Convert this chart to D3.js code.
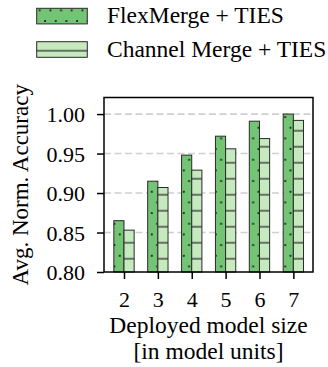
<!DOCTYPE html>
<html>
<head>
<meta charset="utf-8">
<script src="https://cdn.jsdelivr.net/npm/d3@7"></script>
<style>
  html, body { margin: 0; padding: 0; background: #fff; }
  svg { display: block; }
  text { font-family: "Liberation Serif", "Times New Roman", Times, serif; fill: #000; }
</style>
</head>
<body>
<svg id="chart" width="328" height="367"></svg>
<script>
const categories = [2, 3, 4, 5, 6, 7];
const flexMerge = [0.865, 0.915, 0.948, 0.972, 0.991, 1.000];
const channelMerge = [0.853, 0.907, 0.929, 0.956, 0.969, 0.992];
const yTicks = [0.80, 0.85, 0.90, 0.95, 1.00];
const seriesNames = ["FlexMerge + TIES", "Channel Merge + TIES"];
const yLabel = "Avg. Norm. Accuracy";
const xLabelLines = ["Deployed model size", "[in model units]"];

const svg = d3.select("#chart");
const m = { left: 104, right: 313, top: 97.5, bottom: 272 };

const x = d3.scaleLinear().domain([1.41, 7.58]).range([m.left, m.right]);
const y = d3.scaleLinear().domain([0.8, 1.021]).range([m.bottom, m.top]);
const barW = 0.3;

const flexColor = "#74c476";
const chanColor = "#c7e9c0";

// patterns
const defs = svg.append("defs");
const dp = 10.67;
const dots = defs.append("pattern").attr("id", "dots")
  .attr("patternUnits", "userSpaceOnUse")
  .attr("x", 2.4).attr("y", -0.3)
  .attr("width", dp).attr("height", dp * 2);
dots.append("rect").attr("width", dp).attr("height", dp * 2).attr("fill", flexColor);
[[0,0],[dp,0],[0,2*dp],[dp,2*dp],[dp/2,dp]].forEach(([cx, cy]) => {
  dots.append("circle").attr("cx", cx).attr("cy", cy).attr("r", 1.05).attr("fill", "#111");
});
const lines = defs.append("pattern").attr("id", "hlines")
  .attr("patternUnits", "userSpaceOnUse")
  .attr("x", 0).attr("y", 2.7)
  .attr("width", 16).attr("height", 16);
lines.append("rect").attr("width", 16).attr("height", 16).attr("fill", chanColor);
lines.append("rect").attr("x", 0).attr("y", -0.5).attr("width", 16).attr("height", 1.1).attr("fill", "#111");
lines.append("rect").attr("x", 0).attr("y", 15.5).attr("width", 16).attr("height", 1.1).attr("fill", "#111");

// grid
svg.append("g").selectAll("line").data(yTicks.filter(t => t > 0.8)).join("line")
  .attr("x1", m.left).attr("x2", m.right)
  .attr("y1", d => y(d)).attr("y2", d => y(d))
  .attr("stroke", "#d0d0d0").attr("stroke-width", 1.6)
  .attr("stroke-dasharray", "7,3.5");

// bars
const data = categories.map((c, i) => ({ c, f: flexMerge[i], ch: channelMerge[i] }));
const gBars = svg.append("g");
gBars.selectAll("rect.flex").data(data).join("rect").attr("class", "flex")
  .attr("x", d => x(d.c - barW)).attr("width", d => x(d.c) - x(d.c - barW))
  .attr("y", d => y(d.f)).attr("height", d => y(0.8) - y(d.f))
  .attr("fill", "url(#dots)").attr("stroke", "#2a2a2a").attr("stroke-width", 1);
gBars.selectAll("rect.chan").data(data).join("rect").attr("class", "chan")
  .attr("x", d => x(d.c)).attr("width", d => x(d.c + barW) - x(d.c))
  .attr("y", d => y(d.ch)).attr("height", d => y(0.8) - y(d.ch))
  .attr("fill", "url(#hlines)").attr("stroke", "#2a2a2a").attr("stroke-width", 1);

// frame
svg.append("rect").attr("x", m.left).attr("y", m.top)
  .attr("width", m.right - m.left).attr("height", m.bottom - m.top)
  .attr("fill", "none").attr("stroke", "#000").attr("stroke-width", 1.5);

// axes
const fs = 22;
const yAxis = svg.append("g").attr("transform", `translate(${m.left},0)`)
  .call(d3.axisLeft(y).tickValues(yTicks).tickFormat(d3.format(".2f")).tickSize(7).tickPadding(12));
const xAxis = svg.append("g").attr("transform", `translate(0,${m.bottom})`)
  .call(d3.axisBottom(x).tickValues(categories).tickFormat(d3.format("d")).tickSize(7).tickPadding(6));
[yAxis, xAxis].forEach(a => {
  a.attr("font-family", null);
  a.select(".domain").remove();
  a.selectAll(".tick line").attr("stroke", "#000").attr("stroke-width", 1.5);
  a.selectAll(".tick text").style("font-size", fs + "px").attr("fill", "#000");
});
xAxis.selectAll(".tick text").attr("dy", null).attr("y", 35);
yAxis.selectAll(".tick text").attr("dy", "0.34em");

// y label
svg.append("text")
  .attr("transform", `translate(28,${(m.top + m.bottom) / 2}) rotate(-90)`)
  .attr("text-anchor", "middle").style("font-size", "23px").text(yLabel);

// x label (two lines in one text element)
const xl = svg.append("text").attr("text-anchor", "middle").style("font-size", "23.5px");
xLabelLines.forEach((t, i) => {
  xl.append("tspan").attr("x", (m.left + m.right) / 2).attr("y", 332.5 + i * 26).text(t);
});

// legend
const legY = [8.3, 41.7];
seriesNames.forEach((name, i) => {
  svg.append("rect").attr("x", 36.7).attr("y", legY[i]).attr("width", 50.6).attr("height", 15.6)
    .attr("fill", i === 0 ? "url(#dots)" : "url(#hlines)")
    .attr("stroke", "#2a2a2a").attr("stroke-width", 1);
  svg.append("text").attr("x", 107).attr("y", legY[i] + 14.8)
    .style("font-size", "23.5px").text(name);
});
</script>
</body>
</html>
